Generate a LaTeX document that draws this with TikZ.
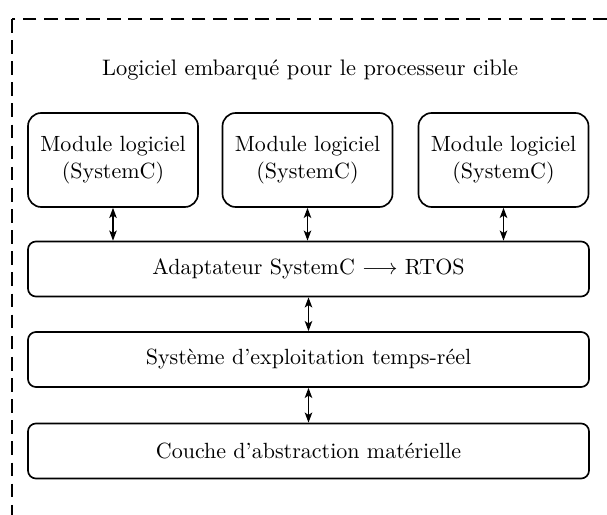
\documentclass[tikz,border=0pt]{standalone}
\usetikzlibrary{arrows.meta}

\begin{document}
\begin{tikzpicture}[
  x=0.4545pt, y=-0.4545pt,
  layer/.style={draw, line width=0.75pt, rounded corners=3.6pt,
    minimum width={561*0.4545pt}, minimum height={55*0.4545pt},
    inner sep=0pt, align=center},
  module/.style={draw, line width=0.75pt, rounded corners=6pt,
    minimum width={170*0.4545pt}, minimum height={94*0.4545pt},
    inner sep=0pt, align=center},
  link/.style={line width=0.6pt, {Stealth[length=4.6pt,width=3.4pt,inset=1.1pt]}-{Stealth[length=4.6pt,width=3.4pt,inset=1.1pt]}},
  frame/.style={line width=0.9pt, dash pattern=on 6.2pt off 3.4pt}
]
  % page area; the dashed frame runs past the right and bottom edges
  \clip (0,0) rectangle (607,515);
  \draw[frame] (12,19) rectangle (700,600);

  \node[font=\fontsize{10.2}{12}\selectfont] (title) at (310,70) {Logiciel embarqué pour le processeur cible};

  \node[module] (m1) at (113,160)   {Module logiciel\\(SystemC)};
  \node[module] (m2) at (307.5,160) {Module logiciel\\(SystemC)};
  \node[module] (m3) at (503.5,160) {Module logiciel\\(SystemC)};

  \node[layer] (adapt) at (308.5,269)   {Adaptateur SystemC $\longrightarrow$ RTOS};
  \node[layer] (rtos)  at (308.5,359.5) {Système d'exploitation temps-réel};
  \node[layer] (hal)   at (308.5,451)   {Couche d'abstraction matérielle};

  \draw[link] (m1.south) -- (m1.south |- adapt.north);
  \draw[link] (m2.south) -- (m2.south |- adapt.north);
  \draw[link] (m3.south) -- (m3.south |- adapt.north);
  \draw[link] (adapt.south) -- (rtos.north);
  \draw[link] (rtos.south) -- (hal.north);
\end{tikzpicture}
\end{document}
